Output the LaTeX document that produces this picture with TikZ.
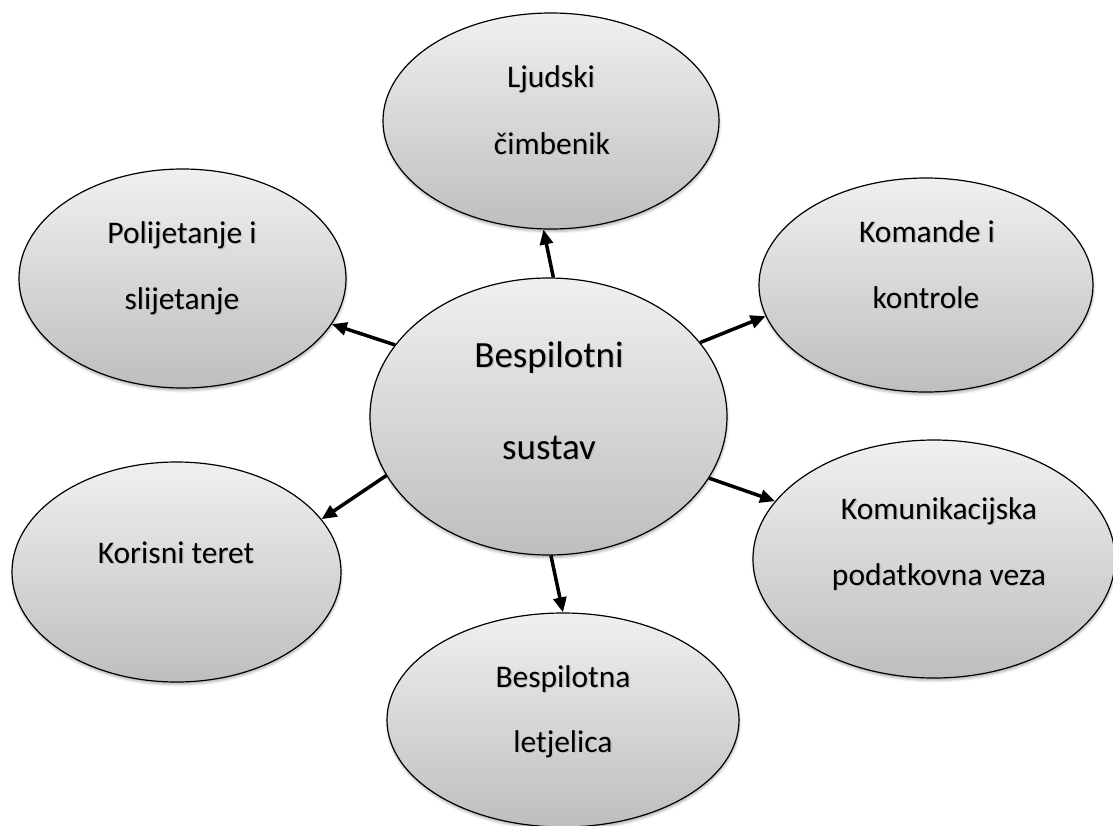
\documentclass[tikz,border=0pt]{standalone}
\usepackage{fontspec}
\setmainfont{Carlito}
\usetikzlibrary{shapes.geometric,arrows.meta,shadows.blur}
\definecolor{topg}{RGB}{240,240,240}
\definecolor{botg}{RGB}{190,190,190}
\newcommand{\shd}[1]{\rlap{\kern1.3pt\raisebox{-1.3pt}{\textcolor{black!25}{#1}}}#1}
\begin{document}
\begin{tikzpicture}[x=1pt,y=-1pt,
  bub/.style={ellipse, draw=black, line width=1.2pt, top color=topg, bottom color=botg, inner sep=0pt,
    blur shadow={shadow xshift=0.5pt, shadow yshift=-2.5pt, shadow blur radius=2.5pt, shadow opacity=30}},
  lab/.style={anchor=base, inner sep=0pt, font=\fontsize{31.5}{36}\selectfont},
  big/.style={anchor=base, inner sep=0pt, font=\fontsize{37}{42}\selectfont},
  arr/.style={line width=3.5pt, -{Triangle[length=15pt,width=13pt]}}]
\useasboundingbox (0,0) rectangle (1113,825);
% bubbles
\node[bub, minimum width=336pt, minimum height=216pt] (lj) at (551,121) {};
\node[bub, minimum width=327pt, minimum height=219pt] (pol) at (182.5,278.5) {};
\node[bub, minimum width=334pt, minimum height=214pt] (kom) at (926,285) {};
\node[bub, minimum width=357pt, minimum height=277pt] (c) at (548.5,416.5) {};
\node[bub, minimum width=329pt, minimum height=220pt] (kt) at (176.5,572) {};
\node[bub, minimum width=362pt, minimum height=238pt] (kv) at (934,559) {};
\node[bub, minimum width=352pt, minimum height=214pt] (bl) at (563,720) {};
% texts
\node[lab] (lj1) at (551,87) {\shd{Ljudski}};
\node[lab] (lj2) at (552,154) {\shd{čimbenik}};
\node[lab] (pol1) at (182,243) {\shd{Polijetanje i}};
\node[lab] (pol2) at (182,309) {\shd{slijetanje}};
\node[lab] (kom1) at (927,242) {\shd{Komande i}};
\node[lab] (kom2) at (926,308) {\shd{kontrole}};
\node[big] (c1) at (549,367) {\shd{Bespilotni}};
\node[big] (c2) at (549,459) {\shd{sustav}};
\node[lab] (kt1) at (176,563) {\shd{Korisni teret}};
\node[lab] (kv1) at (939,519) {\shd{Komunikacijska}};
\node[lab] (kv2) at (939,585) {\shd{podatkovna veza}};
\node[lab] (bl1) at (563,687) {\shd{Bespilotna}};
\node[lab] (bl2) at (563,752) {\shd{letjelica}};
% arrows
\draw[arr] (c.88.6) -- (lj.266.4);
\draw[arr] (c.155.6) -- (pol.343.9);
\draw[arr] (c.26.3) -- (kom.191.7);
\draw[arr] (c.339.5) -- (kv.160.7);
\draw[arr] (c.200.5) -- (kt.20.2);
\draw[arr] (c.271.4) -- (bl.90);
\end{tikzpicture}
\end{document}
